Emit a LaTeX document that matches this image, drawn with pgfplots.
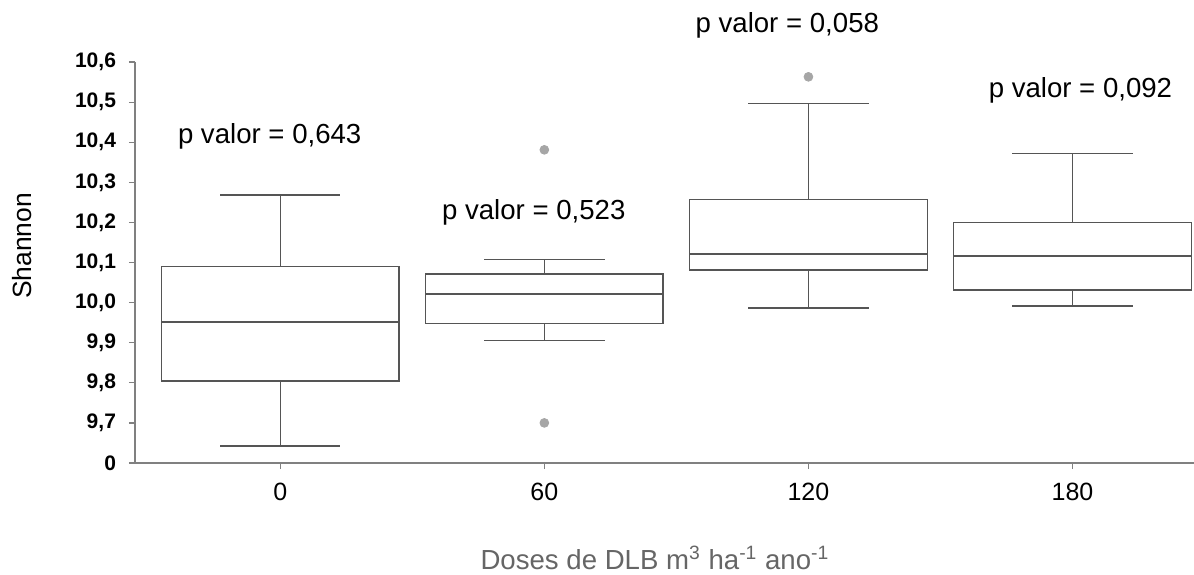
\documentclass[border=0pt]{standalone}
\usepackage{fontspec}
\setmainfont{Liberation Sans}
\usepackage{pgfplots}
\pgfplotsset{compat=1.18}
\definecolor{axisgray}{HTML}{808080}
\definecolor{boxgray}{HTML}{555555}
\definecolor{outgray}{HTML}{A6A6A6}
\definecolor{labgray}{HTML}{666666}
\begin{document}
\begin{tikzpicture}
\begin{axis}[
  at={(67.5pt,55.5pt)}, anchor=south west,
  scale only axis, width=529.5pt, height=200.5pt,
  xmin=0.45, xmax=4.46, ymin=9.6, ymax=10.6,
  axis x line=bottom, axis y line=left,
  axis line style={-, draw=axisgray, line width=0.8pt},
  xtick={1,2,3,4}, xticklabels={0,60,120,180},
  ytick={9.6,9.7,9.8,9.9,10.0,10.1,10.2,10.3,10.4,10.5,10.6},
  yticklabels={0,{9,7},{9,8},{9,9},{10,0},{10,1},{10,2},{10,3},{10,4},{10,5},{10,6}},
  tick align=outside, major tick length=3pt,
  tick style={draw=axisgray, line width=0.6pt},
  xticklabel style={font=\fontsize{12.5}{14}\selectfont, yshift=-3.5pt},
  yticklabel style={font=\fontsize{10.5}{12}\selectfont\bfseries, xshift=-3pt},
  ylabel={Shannon},
  ylabel style={at={(axis description cs:-0.107,0.541)}, anchor=center, font=\fontsize{13.2}{15}\selectfont},
  xlabel={Doses de DLB m\textsuperscript{3} ha\textsuperscript{-1} ano\textsuperscript{-1}},
  xlabel style={at={(axis description cs:0.491,-0.237)}, anchor=center, font=\fontsize{13.8}{16}\selectfont, text=labgray},
  clip=false,
  unbounded coords=jump,
  bx/.style={draw=boxgray, line width=0.75pt, mark=none, line cap=rect, line join=miter},
]
% group 0: q1 9.804, q3 10.090, median 9.952, whiskers 9.643 / 10.268
\addplot[bx] coordinates {
 (0.55,9.804) (1.45,9.804) (1.45,10.090) (0.55,10.090) (0.55,9.804) (1,nan)
 (0.55,9.952) (1.45,9.952) (1,nan)
 (1,10.090) (1,10.268) (1,nan)
 (0.775,10.268) (1.225,10.268) (1,nan)
 (1,9.804) (1,9.643) (1,nan)
 (0.775,9.643) (1.225,9.643)
};
% group 60: q1 9.948, q3 10.071, median 10.021, whiskers 9.905 / 10.107
\addplot[bx] coordinates {
 (1.55,9.948) (2.45,9.948) (2.45,10.071) (1.55,10.071) (1.55,9.948) (2,nan)
 (1.55,10.021) (2.45,10.021) (2,nan)
 (2,10.071) (2,10.107) (2,nan)
 (1.775,10.107) (2.225,10.107) (2,nan)
 (2,9.948) (2,9.905) (2,nan)
 (1.775,9.905) (2.225,9.905)
};
% group 120: q1 10.081, q3 10.257, median 10.121, whiskers 9.987 / 10.496
\addplot[bx] coordinates {
 (2.55,10.081) (3.45,10.081) (3.45,10.257) (2.55,10.257) (2.55,10.081) (3,nan)
 (2.55,10.121) (3.45,10.121) (3,nan)
 (3,10.257) (3,10.496) (3,nan)
 (2.775,10.496) (3.225,10.496) (3,nan)
 (3,10.081) (3,9.987) (3,nan)
 (2.775,9.987) (3.225,9.987)
};
% group 180: q1 10.031, q3 10.200, median 10.116, whiskers 9.992 / 10.372
\addplot[bx] coordinates {
 (3.55,10.031) (4.45,10.031) (4.45,10.200) (3.55,10.200) (3.55,10.031) (4,nan)
 (3.55,10.116) (4.45,10.116) (4,nan)
 (4,10.200) (4,10.372) (4,nan)
 (3.775,10.372) (4.225,10.372) (4,nan)
 (4,10.031) (4,9.992) (4,nan)
 (3.775,9.992) (4.225,9.992)
};
% outliers
\addplot[only marks, mark=*, mark size=2.2pt, mark options={draw=outgray, fill=outgray}] coordinates {(2,10.381) (2,9.700) (3,10.563)};
\node[font=\fontsize{13.8}{16}\selectfont] at (axis cs:0.96,10.415) {p valor = 0,643};
\node[font=\fontsize{13.8}{16}\selectfont] at (axis cs:1.96,10.226) {p valor = 0,523};
\node[font=\fontsize{13.8}{16}\selectfont] at (axis cs:2.92,10.692) {p valor = 0,058};
\node[font=\fontsize{13.8}{16}\selectfont] at (axis cs:4.03,10.530) {p valor = 0,092};
\end{axis}
\pgfresetboundingbox
\useasboundingbox (0,0) rectangle (597pt,287pt);
\end{tikzpicture}
\end{document}
